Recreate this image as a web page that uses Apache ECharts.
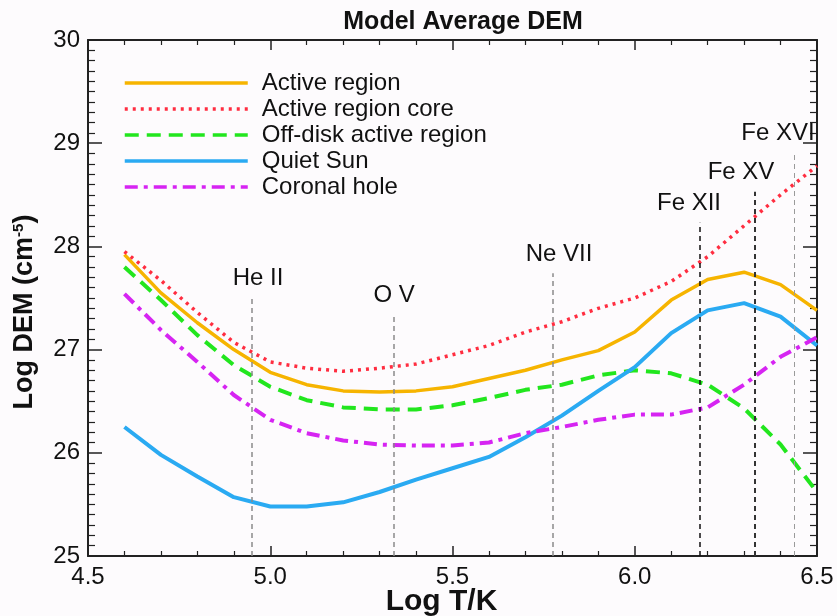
<!DOCTYPE html>
<html>
<head>
<meta charset="utf-8">
<script src="https://cdn.jsdelivr.net/npm/echarts@6/dist/echarts.min.js"></script>
<style>
  html, body { margin: 0; padding: 0; background: #fdfbfd; }
  #chart { width: 837px; height: 616px; }
</style>
</head>
<body>
<div id="chart"></div>
<script>
// Log T grid
const logT = [4.6, 4.7, 4.8, 4.9, 5.0, 5.1, 5.2, 5.3, 5.4, 5.5, 5.6, 5.7, 5.8, 5.9, 6.0, 6.1, 6.2, 6.3, 6.4, 6.5]

// Log DEM per region
const activeRegion = [27.92, 27.55, 27.26, 27.00, 26.78, 26.66, 26.60, 26.59, 26.60, 26.64, 26.72, 26.80, 26.90, 26.99, 27.17, 27.48, 27.68, 27.75, 27.63, 27.38]
const arCore = [27.95, 27.67, 27.36, 27.07, 26.88, 26.82, 26.79, 26.82, 26.86, 26.95, 27.04, 27.17, 27.27, 27.40, 27.50, 27.66, 27.90, 28.20, 28.50, 28.78]
const offDisk = [27.80, 27.48, 27.14, 26.85, 26.64, 26.51, 26.44, 26.42, 26.42, 26.46, 26.53, 26.61, 26.66, 26.75, 26.80, 26.77, 26.66, 26.43, 26.08, 25.62]
const quietSun = [26.25, 25.98, 25.77, 25.57, 25.48, 25.48, 25.52, 25.62, 25.74, 25.85, 25.96, 26.15, 26.36, 26.60, 26.83, 27.16, 27.38, 27.45, 27.32, 27.04]
const coronalHole = [27.54, 27.19, 26.88, 26.56, 26.32, 26.19, 26.12, 26.08, 26.07, 26.07, 26.10, 26.19, 26.25, 26.32, 26.37, 26.37, 26.44, 26.66, 26.93, 27.12]

// formation temperatures of the lines marked on the plot
const ions = ['He II', 'O V', 'Ne VII', 'Fe XII', 'Fe XV', 'Fe XVI']
const ionT = [4.95, 5.34, 5.776, 6.179, 6.33, 6.437]
const ionTop = [27.51, 27.34, 27.74, 28.23, 28.53, 28.91]

// styling only
const ionColor = ['#8a8a8a', '#8a8a8a', '#8a8a8a', '#111', '#333', '#9a9a9a']
const ionWidth = [1.5, 1.5, 1.5, 1.5, 2, 1]
const ionShift = [6, 0, 6, -11, -14, -16]

const font = 'Liberation Sans, Arial, Helvetica, sans-serif'
const axisColor = '#222'

const chart = echarts.init(document.getElementById('chart'))

function pairs(ys) {
  return logT.map((t, i) => [t, ys[i]])
}

function frameAxis(pos, min, max, interval, minorSplit, len) {
  return {
    type: 'value',
    position: pos,
    min: min,
    max: max,
    interval: interval,
    axisLine: { show: true, onZero: false, lineStyle: { color: axisColor, width: 2 } },
    axisTick: { show: true, inside: true, length: len, lineStyle: { color: axisColor, width: 1.5 } },
    minorTick: { show: true, splitNumber: minorSplit, length: len / 2, lineStyle: { color: axisColor, width: 1.2 } },
    splitLine: { show: false },
    minorSplitLine: { show: false },
    axisLabel: { show: false }
  }
}

const xBottom = Object.assign(frameAxis('bottom', 4.5, 6.5, 0.5, 5, 10), {
  axisLabel: {
    show: true, fontSize: 24, color: '#111', fontFamily: font, margin: 9,
    showMinLabel: true, showMaxLabel: true,
    formatter: v => v.toFixed(1)
  },
  name: 'Log T/K',
  nameLocation: 'middle',
  nameGap: 31,
  nameMoveOverlap: false,
  nameTextStyle: { fontSize: 30, fontWeight: 'bold', color: '#111', fontFamily: font, padding: [0, 22, 0, 0] }
})
const xTop = frameAxis('top', 4.5, 6.5, 0.5, 5, 10)

const yLeft = Object.assign(frameAxis('left', 25, 30, 1, 10, 14), {
  axisLabel: {
    show: true, fontSize: 24, color: '#111', fontFamily: font, margin: 8,
    showMinLabel: true, showMaxLabel: true
  },
  name: 'Log DEM (cm{sup|-5})',
  nameLocation: 'middle',
  nameGap: 50,
  nameMoveOverlap: false,
  nameTextStyle: {
    fontSize: 27, fontWeight: 'bold', color: '#111', fontFamily: font, padding: [0, 28, 0, 0],
    rich: { sup: { fontSize: 15, fontWeight: 'bold', color: '#111', fontFamily: font, verticalAlign: 'top', lineHeight: 15 } }
  }
})
const yRight = frameAxis('right', 25, 30, 1, 10, 14)

function curve(name, ys, color, type, width) {
  return {
    name: name,
    type: 'line',
    data: pairs(ys),
    symbol: 'none',
    showSymbol: false,
    smooth: false,
    xAxisIndex: 0,
    yAxisIndex: 0,
    lineStyle: { color: color, width: width, type: type },
    itemStyle: { color: color },
    z: 3
  }
}

const ionSeries = {
  name: 'ions',
  type: 'scatter',
  symbolSize: 0,
  silent: true,
  itemStyle: { opacity: 1 },
  data: ions.map((n, i) => ({
    name: n,
    value: [ionT[i], ionTop[i]],
    label: { offset: [ionShift[i], 0] }
  })),
  label: {
    show: true,
    position: 'top',
    distance: 7,
    formatter: p => p.name,
    fontSize: 24,
    color: '#111',
    fontFamily: font
  },
  markLine: {
    silent: true,
    symbol: 'none',
    label: { show: false },
    data: ions.map((n, i) => [
      { coord: [ionT[i], 25], lineStyle: { color: ionColor[i], width: ionWidth[i], type: [5, 4] } },
      { coord: [ionT[i], ionTop[i]] }
    ])
  },
  z: 2
}

const option = {
  backgroundColor: '#fdfbfd',
  animation: false,
  title: {
    text: 'Model Average DEM',
    left: 458,
    top: 5,
    textAlign: 'center',
    textStyle: { fontSize: 25, fontWeight: 'bold', color: '#111', fontFamily: font }
  },
  grid: { left: 88, right: 20, top: 40, bottom: 60, outerBoundsMode: 'none', containLabel: false },
  legend: {
    orient: 'vertical',
    left: 123,
    top: 70,
    padding: 0,
    itemWidth: 123,
    itemHeight: 14,
    itemGap: 0,
    data: ['Active region', 'Active region core', 'Off-disk active region', 'Quiet Sun', 'Coronal hole'],
    itemStyle: { opacity: 0 },
    lineStyle: { width: 3.5 },
    textStyle: { fontSize: 24, color: '#111', fontFamily: font, lineHeight: 26, padding: [0, 0, 0, 9] }
  },
  xAxis: [xBottom, xTop],
  yAxis: [yLeft, yRight],
  series: [
    ionSeries,
    curve('Active region', activeRegion, '#f6b400', 'solid', 3.5),
    curve('Active region core', arCore, '#ff2d40', [3, 5], 3.5),
    curve('Off-disk active region', offDisk, '#22e61e', [14, 8], 4),
    curve('Quiet Sun', quietSun, '#2aaaf2', 'solid', 4),
    curve('Coronal hole', coronalHole, '#d624f2', [13, 6, 4, 6], 4)
  ]
}

chart.setOption(option)
</script>
</body>
</html>
